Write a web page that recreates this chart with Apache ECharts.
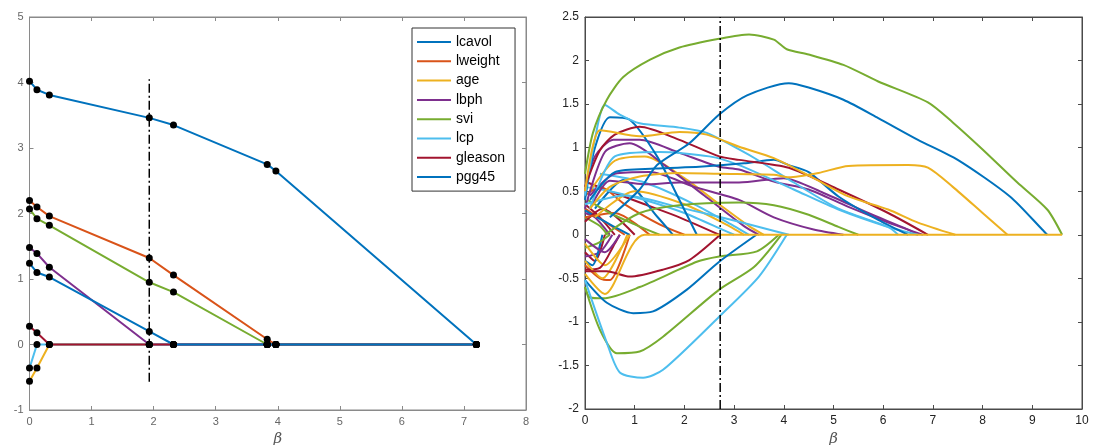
<!DOCTYPE html>
<html>
<head>
<meta charset="utf-8">
<script src="https://cdn.jsdelivr.net/npm/echarts@6/dist/echarts.min.js"></script>
<style>
  html, body { margin: 0; padding: 0; background: #fff; }
  #chart { width: 1098px; height: 445px; }
</style>
</head>
<body>
<div id="chart"></div>
<script>
// MATLAB default colour order
const C = ['#0072BD', '#D95319', '#EDB120', '#7E2F8E', '#77AC30', '#4DBEEE', '#A2142F'];

// ---- left panel: piecewise path with knots ----
const knotBeta = [0, 0.12, 0.32, 1.93, 2.32, 3.83, 3.97, 7.2];
const varNames = ['lcavol', 'lweight', 'age', 'lbph', 'svi', 'lcp', 'gleason', 'pgg45'];
const lcavol  = [4.02, 3.89, 3.81, 3.46, 3.35, 2.75, 2.65, 0];
const lweight = [2.20, 2.10, 1.96, 1.32, 1.06, 0.08, 0, 0];
const age     = [-0.56, -0.36, 0, 0, 0, 0, 0, 0];
const lbph    = [1.48, 1.39, 1.18, 0, 0, 0, 0, 0];
const svi     = [2.07, 1.92, 1.82, 0.95, 0.80, 0, 0, 0];
const lcp     = [-0.36, 0, 0, 0, 0, 0, 0, 0];
const gleason = [0.28, 0.18, 0, 0, 0, 0, 0, 0];
const pgg45   = [1.24, 1.10, 1.03, 0.20, 0, 0, 0, 0];
const leftValues = [lcavol, lweight, age, lbph, svi, lcp, gleason, pgg45];
const leftCut = 1.93;
const leftCutSpan = [-0.57, 4.05];

// ---- right panel: many coefficient paths [beta, value] ----
const rightPaths = [
  [[0, 0.35], [0.3, 0.2], [0.6, 0]],
  [[0, 0.3], [0.4, 0.15], [0.8, 0]],
  [[0, 0.25], [0.2, 0.2], [0.5, 0]],
  [[0, 0.2], [0.3, 0.1], [0.45, 0]],
  [[0, 0.28], [0.5, 0.12], [0.9, 0]],
  [[0, 0.15], [0.35, 0.3], [1.0, 0]],
  [[0, 0.2], [0.6, 0.25], [1.3, 0]],
  [[0, -0.2], [0.2, -0.3], [0.4, 0]],
  [[0, -0.25], [0.3, -0.2], [0.55, 0]],
  [[0, -0.35], [0.3, -0.5], [0.5, -0.52], [0.9, 0]],
  [[0, -0.3], [0.15, -0.35], [0.35, 0]],
  [[0, -0.15], [0.25, -0.1], [0.5, 0]],
  [[0, -0.1], [0.4, -0.35], [0.9, 0]],
  [[0, -0.4], [0.3, -0.38], [0.6, -0.1], [0.7, 0]],
  [[0, -0.05], [0.4, -0.2], [0.7, 0]],
  [[0, -0.3], [0.35, -0.5], [0.85, 0]],
  [[0.05, 0.6], [0.5, 0.5], [1.2, 0.35], [1.9, 0.2], [2.7, 0]],
  [[0, 0.45], [0.3, 0.55], [0.8, 0.35], [1.5, 0.12], [2.0, 0]],
  [[0.2, 0.3], [0.77, 0.63], [1.45, 0.21], [1.77, 0]],
  [[0, 0.55], [0.5, 0.5], [1.2, 0.4], [2.0, 0.25], [2.8, 0.05], [3.0, 0]],
  [[0.05, 0.4], [0.5, 0.25], [1.0, 0.12], [1.5, 0]],
  [[0.3, 0.7], [1.2, 0.6], [2.2, 0.35], [3.0, 0.1], [3.3, 0]],
  [[0.2, 0.2], [1.0, 0.5], [2.0, 0.35], [2.9, 0.1], [3.2, 0]],
  [[0.1, 0.5], [0.6, 0.85], [1.2, 0.9], [2.0, 0.65], [2.7, 0.35], [3.3, 0.1], [3.6, 0]],
  [[0, 0.3], [0.4, 0.95], [0.9, 1.05], [1.6, 0.8], [2.4, 0.45], [3.2, 0.1], [3.5, 0]],
  [[0, 0.35], [0.8, 0.45], [2.0, 0.3], [3.1, 0.15], [4.1, 0]],
  [[0.1, 0.45], [0.6, 0.7], [1.3, 0.72], [2.2, 0.55], [3.1, 0.4], [3.8, 0.2], [4.6, 0.06], [5.2, 0]],
  [[0.4, 0], [1.1, 0.25], [1.9, 0.34], [3.1, 0.37], [3.8, 0.34], [4.5, 0.23], [5.1, 0.09], [5.5, 0]],
  [[0.1, 0.3], [0.5, 0.62], [1.2, 0.58], [1.9, 0.6], [3.1, 0.6], [4.0, 0.65], [4.8, 0.48], [5.7, 0.25], [6.5, 0.06], [6.7, 0]],
  [[0, 0.5], [0.2, 0.9], [0.57, 1.09], [1.1, 1.09], [1.9, 0.94], [2.7, 0.78], [3.1, 0.75], [3.8, 0.61], [4.5, 0.52], [5.3, 0.32], [6.1, 0.14], [6.8, 0]],
  [[0.1, 0.3], [0.6, 0.9], [1.5, 0.95], [2.5, 0.9], [3.1, 0.8], [4.2, 0.52], [5.1, 0.29], [6.1, 0.09], [6.7, 0]],
  [[0.1, 0.4], [0.6, 0.72], [1.4, 0.76], [2.3, 0.78], [3.2, 0.82], [3.8, 0.86], [4.1, 0.8], [4.5, 0.72], [5.1, 0.44], [5.9, 0.17], [6.5, 0]],
  [[0, 0.4], [0.2, 1.0], [0.5, 1.35], [0.9, 1.32], [1.45, 0.9], [1.9, 0.4], [2.25, 0]],
  [[0, 0.45], [0.2, 1.1], [0.4, 1.49], [0.7, 1.38], [1.1, 1.28], [1.9, 1.23], [2.45, 1.17], [3.1, 0.98], [3.5, 0.85], [4.2, 0.6], [5.1, 0.3], [6.1, 0.09], [6.3, 0]],
  [[0, 0.55], [0.3, 0.97], [0.6, 1.15], [1.1, 1.24], [1.9, 1.09], [2.7, 0.9], [3.1, 0.86], [4.1, 0.77], [5.1, 0.52], [6.1, 0.25], [6.9, 0]],
  [[0, 0.5], [0.15, 1.0], [0.3, 1.2], [1.1, 1.13], [1.9, 1.18], [2.45, 1.15], [3.1, 1.01], [3.8, 0.88], [4.6, 0.65], [5.3, 0.44], [6.1, 0.29], [6.7, 0.14], [7.45, 0]],
  [[0.1, 0.3], [0.5, 0.55], [1.1, 0.67], [1.9, 0.71], [2.7, 0.7], [3.8, 0.69], [4.1, 0.66], [4.7, 0.71], [5.3, 0.79], [6.5, 0.8], [6.9, 0.77], [7.4, 0.55], [8.0, 0.25], [8.5, 0]],
  [[0.5, 0.2], [1.1, 0.52], [1.45, 0.8], [2.1, 1.05], [2.7, 1.38], [3.26, 1.6], [4.1, 1.74], [4.5, 1.69], [5.2, 1.55], [5.9, 1.34], [6.7, 1.09], [7.5, 0.86], [8.55, 0.44], [9.2, 0.06], [9.3, 0]],
  [[0, 0.7], [0.16, 1.17], [0.44, 1.55], [0.77, 1.81], [1.31, 2.01], [1.9, 2.15], [2.7, 2.25], [3.3, 2.3], [3.8, 2.24], [4.06, 2.13], [4.5, 2.07], [5.2, 1.95], [5.9, 1.76], [6.9, 1.52], [7.4, 1.29], [8.0, 0.98], [8.7, 0.6], [9.3, 0.29], [9.6, 0]],
  [[0, -0.42], [0.44, -0.42], [0.9, -0.48], [1.57, -0.4], [2.1, -0.29], [2.72, 0]],
  [[0, -0.6], [0.1, -0.72], [0.37, -0.73], [1.1, -0.6], [2.25, -0.31], [2.7, -0.25], [3.46, -0.19], [3.9, 0]],
  [[0, -0.52], [0.44, -0.78], [0.97, -0.9], [1.37, -0.88], [2.05, -0.63], [2.7, -0.31], [3.45, 0]],
  [[0, -0.6], [0.3, -1.09], [0.64, -1.36], [1.1, -1.34], [1.57, -1.17], [2.7, -0.63], [3.4, -0.37], [3.95, 0]],
  [[0, -0.52], [0.44, -1.24], [0.7, -1.58], [1.17, -1.64], [1.57, -1.55], [2.7, -0.94], [3.5, -0.48], [4.06, 0]],
  [[0, -0.45], [0.4, -0.68], [1.2, 0], [9.6, 0]]
];
// colour index (into C) of each right-panel path
const rightPathColour = [6, 1, 3, 4, 0, 6, 1, 6, 3, 1, 0, 4, 2, 6, 3, 2,
  6, 1, 0, 5, 4, 5, 2, 2, 3, 5, 3, 4, 3, 3, 5, 0, 0, 5, 6, 2, 2, 0, 4,
  6, 4, 0, 4, 5, 2];
const rightCut = 2.72;

const chart = echarts.init(document.getElementById('chart'));

const leftAxisColor = '#8a8a8a';
const rightAxisColor = '#4a4a4a';

function xAx(grid, pos, min, max, color, labelOpt, name) {
  return {
    type: 'value', gridIndex: grid, position: pos, min: min, max: max, interval: 1,
    axisLine: { show: true, onZero: false, lineStyle: { color: color, width: 1 } },
    axisTick: { show: true, inside: true, length: 4, lineStyle: { color: color } },
    splitLine: { show: false },
    axisLabel: labelOpt ? labelOpt : { show: false },
    name: name || '', nameLocation: 'middle', nameGap: 19,
    nameTextStyle: { fontFamily: 'DejaVu Serif', fontStyle: 'italic', fontSize: 15, color: '#555' }
  };
}
function yAx(grid, pos, min, max, interval, color, labelOpt) {
  return {
    type: 'value', gridIndex: grid, position: pos, min: min, max: max, interval: interval,
    axisLine: { show: true, onZero: false, lineStyle: { color: color, width: 1 } },
    axisTick: { show: true, inside: true, length: 4, lineStyle: { color: color } },
    splitLine: { show: false },
    axisLabel: labelOpt ? labelOpt : { show: false }
  };
}

const leftLabel = { fontSize: 11, color: '#666', fontFamily: 'Liberation Sans', margin: 6 };
const rightLabel = { fontSize: 12, color: '#222', fontFamily: 'Liberation Sans', margin: 6 };

const series = [];
leftValues.forEach(function (vals, i) {
  series.push({
    name: varNames[i], type: 'line', xAxisIndex: 0, yAxisIndex: 0,
    data: knotBeta.map(function (b, k) { return [b, vals[k]]; }),
    symbol: 'none', silent: true, animation: false,
    itemStyle: { color: C[i % 7] }, lineStyle: { color: C[i % 7], width: 2 }
  });
});
series.push({
  name: 'cutLeft', type: 'line', xAxisIndex: 0, yAxisIndex: 0, symbol: 'none',
  data: [[leftCut, leftCutSpan[0]], [leftCut, leftCutSpan[1]]],
  lineStyle: { color: '#000', width: 1.5, type: [9, 3, 2, 3] }, animation: false, z: 3
});
const knotPts = [];
leftValues.forEach(function (vals) {
  knotBeta.forEach(function (b, k) { knotPts.push([b, vals[k]]); });
});
series.push({
  name: 'knots', type: 'scatter', xAxisIndex: 0, yAxisIndex: 0, data: knotPts,
  symbol: 'circle', symbolSize: 7, itemStyle: { color: '#000', opacity: 1 }, animation: false, z: 4
});

rightPaths.forEach(function (pts, i) {
  const col = C[rightPathColour[i]];
  series.push({
    name: 'path' + i, type: 'line', xAxisIndex: 2, yAxisIndex: 2, data: pts,
    symbol: 'none', smooth: 0.25, animation: false,
    itemStyle: { color: col }, lineStyle: { color: col, width: 2 }
  });
});
series.push({
  name: 'cutRight', type: 'line', xAxisIndex: 2, yAxisIndex: 2, symbol: 'none',
  data: [[rightCut, -2], [rightCut, 2.5]],
  lineStyle: { color: '#000', width: 1.5, type: [9, 3, 2, 3] }, animation: false, z: 3
});

chart.setOption({
  animation: false,
  backgroundColor: '#fff',
  grid: [
    { left: 29.5, top: 17, width: 496.5, height: 393, show: true, borderColor: leftAxisColor, borderWidth: 1, backgroundColor: '#fff', containLabel: false, outerBoundsMode: 'none' },
    { left: 585, top: 17, width: 497, height: 392, show: true, borderColor: rightAxisColor, borderWidth: 1, backgroundColor: '#fff', containLabel: false, outerBoundsMode: 'none' }
  ],
  xAxis: [
    xAx(0, 'bottom', 0, 8, leftAxisColor, leftLabel, 'β'),
    xAx(0, 'top', 0, 8, leftAxisColor, null),
    xAx(1, 'bottom', 0, 10, rightAxisColor, rightLabel, 'β'),
    xAx(1, 'top', 0, 10, rightAxisColor, null)
  ],
  yAxis: [
    yAx(0, 'left', -1, 5, 1, leftAxisColor, leftLabel),
    yAx(0, 'right', -1, 5, 1, leftAxisColor, null),
    yAx(1, 'left', -2, 2.5, 0.5, rightAxisColor, rightLabel),
    yAx(1, 'right', -2, 2.5, 0.5, rightAxisColor, null)
  ],
  legend: {
    data: varNames, orient: 'vertical', left: 412, top: 28,
    icon: 'rect', itemWidth: 34, itemHeight: 2, itemGap: 5.3,
    padding: [7, 10, 7, 5], borderColor: '#333', borderWidth: 1, backgroundColor: '#fff',
    textStyle: { fontSize: 14, color: '#000', fontFamily: 'Liberation Sans' },
    selectedMode: false
  },
  series: series
});
</script>
</body>
</html>
